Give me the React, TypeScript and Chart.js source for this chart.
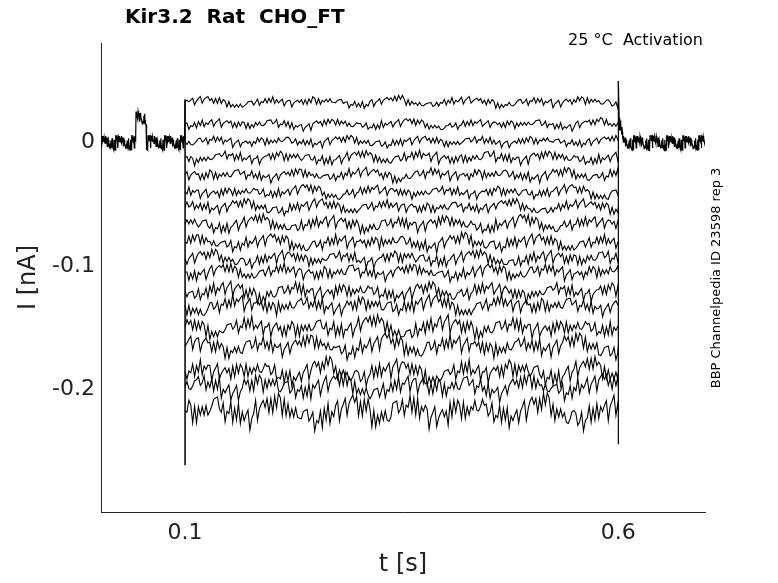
import React, { useEffect, useRef } from "react";
import { Chart, registerables } from "chart.js";
Chart.register(...registerables);

// Steady-state current levels (nA) of each sweep during the 0.1–0.6 s step
const stepLevels = [0.033, 0.015, 0.001, -0.012, -0.026, -0.040, -0.052, -0.066, -0.081, -0.094, -0.105, -0.121, -0.132, -0.150, -0.165, -0.186, -0.198, -0.218];
// noise amplitude (nA) of each sweep
const noiseAmp = [0.004, 0.004, 0.004, 0.005, 0.005, 0.005, 0.005, 0.006, 0.006, 0.006, 0.006, 0.007, 0.007, 0.008, 0.008, 0.009, 0.009, 0.012];
// hand-read wiggle pattern (relative units)
const wiggle = [0.2, -0.6, 0.9, -0.3, 0.5, -1.0, 0.4, 0.8, -0.5, 0.1, -0.8, 0.6, 1.0, -0.2, -0.7, 0.3, 0.7, -0.9, 0.0, 0.5, -0.4, 0.9, -0.6, 0.2, -1.0, 0.6, 0.3, -0.3, 0.8, -0.7, 0.1, 0.4, -0.5, 1.0, -0.8, 0.2, 0.6, -0.1, -0.9, 0.7, 0.3, -0.4, 0.5, -0.6, 0.9, -0.2, 0.0];
// slow drift pattern (relative units)
const drift = [0.3, 0.6, 0.1, -0.4, -0.8, -0.3, 0.2, 0.5, 0.0, -0.5, -0.2, 0.4, 0.7, 0.2, -0.6, -0.9, -0.1, 0.3, 0.8, 0.1, -0.3, -0.7, 0.0];
const holdTimes = [0.003, 0.1, 0.6, 0.7];
const stepStart = 0.1;
const stepEnd = 0.6;
const transientMin = -0.262;
const endSpike = 0.05;
const prepulseBump = [0.043, 0.055, 0.02];

export default function App() {
  const ref = useRef<HTMLCanvasElement>(null);
  useEffect(() => {
    document.body.style.margin = "0";
    const datasets: any[] = [];
    const dt = 0.0022;
    stepLevels.forEach((lvl, k) => {
      const pts: { x: number; y: number }[] = [];
      pts.push({ x: stepStart, y: lvl });
      let i = 0;
      for (let t = stepStart + dt; t <= stepEnd; t += dt, i++) {
        const w = wiggle[(i * 13 + k * 11) % wiggle.length];
        const d = drift[(Math.floor(i / 6) + k * 5) % drift.length];
        pts.push({ x: t, y: lvl + (w * 0.8 + d * 0.7) * noiseAmp[k] });
      }
      pts.push({ x: stepEnd, y: lvl });
      datasets.push({ data: pts, borderColor: "#000", borderWidth: 1.1, pointRadius: 0, tension: 0 });
    });
    const hold: { x: number; y: number }[] = [];
    let j = 0;
    for (let t = holdTimes[0]; t < holdTimes[1]; t += 0.0004, j++) {
      const inBump = t > prepulseBump[0] && t < prepulseBump[1];
      hold.push({ x: t, y: (inBump ? prepulseBump[2] : 0) + wiggle[(j * 7) % wiggle.length] * 0.006 });
    }
    hold.push({ x: stepStart, y: 0.035 });
    hold.push({ x: stepStart, y: null as any });
    hold.push({ x: stepEnd, y: endSpike });
    j = 0;
    for (let t = stepEnd + 0.001; t <= holdTimes[3]; t += 0.0004, j++) {
      const decay = Math.max(0, 1 - (t - stepEnd) / 0.006);
      hold.push({ x: t, y: endSpike * 0.4 * decay + wiggle[(j * 7) % wiggle.length] * 0.006 });
    }
    datasets.push({ data: hold, borderColor: "#000", borderWidth: 1.2, pointRadius: 0, spanGaps: false });
    datasets.push({ data: [{ x: stepStart, y: 0.035 }, { x: stepStart, y: transientMin }], borderColor: "#000", borderWidth: 1.5, pointRadius: 0 });
    datasets.push({ data: [{ x: stepEnd, y: endSpike }, { x: stepEnd, y: -0.245 }], borderColor: "#000", borderWidth: 1.2, pointRadius: 0 });

    const font = "'DejaVu Sans', sans-serif";
    const chart = new Chart(ref.current!, {
      type: "line",
      data: { datasets },
      options: {
        animation: false,
        responsive: false,
        parsing: false as any,
        layout: { padding: { top: 43, right: 73, left: 0, bottom: 0 } },
        plugins: { legend: { display: false }, tooltip: { enabled: false } },
        scales: {
          x: {
            type: "linear", min: 0.003, max: 0.7,
            grid: { display: false, drawTicks: false },
            border: { color: "#222" },
            afterBuildTicks: (s: any) => { s.ticks = [{ value: 0.1 }, { value: 0.6 }]; },
            ticks: { color: "#222", font: { family: font, size: 22 }, padding: 8 },
            title: { display: true, text: "t [s]", color: "#222", font: { family: font, size: 24 }, padding: { top: 2 } },
            afterFit: (s: any) => { s.height = 71; },
          },
          y: {
            min: -0.3, max: 0.081,
            grid: { display: false, drawTicks: false },
            border: { color: "#222" },
            afterBuildTicks: (s: any) => { s.ticks = [{ value: -0.2 }, { value: -0.1 }, { value: 0 }]; },
            ticks: { color: "#222", font: { family: font, size: 22 }, padding: 6, callback: (v: any) => (v === 0 ? "0" : String(v)) },
            title: { display: true, text: "I [nA]", color: "#222", font: { family: font, size: 24 }, padding: { top: 14, bottom: 4 } },
            afterFit: (s: any) => { s.width = 101; },
          },
        },
      },
      plugins: [{
        id: "texts",
        afterDraw(c: any) {
          const ctx = c.ctx;
          ctx.save();
          ctx.fillStyle = "#000";
          ctx.font = `bold 20px ${font}`;
          ctx.textBaseline = "middle";
          ctx.fillText("Kir3.2  Rat  CHO_FT", 125, 18);
          ctx.font = `16px ${font}`;
          ctx.textAlign = "right";
          ctx.fillText("25 °C  Activation", 703, 41);
          ctx.translate(717, 278);
          ctx.rotate(-Math.PI / 2);
          ctx.textAlign = "center";
          ctx.font = `13px ${font}`;
          ctx.fillText("BBP Channelpedia ID 23598 rep 3", 0, 0);
          ctx.restore();
        },
      }],
    });
    return () => chart.destroy();
  }, []);
  return <canvas ref={ref} width={778} height={583} style={{ display: "block" }} />;
}
